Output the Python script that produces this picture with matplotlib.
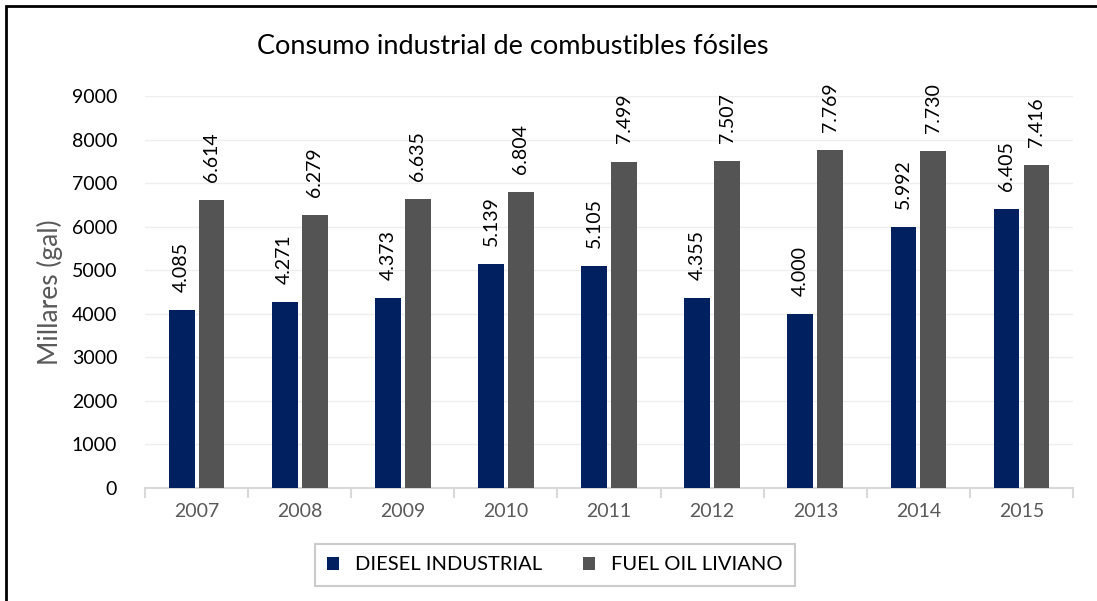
import numpy as np
from matplotlib import pyplot as plt
from matplotlib.patches import Rectangle

years = ["2007", "2008", "2009", "2010", "2011", "2012", "2013", "2014", "2015"]
diesel = [4085, 4271, 4373, 5139, 5105, 4355, 4000, 5992, 6405]
fuel_oil = [6614, 6279, 6635, 6804, 7499, 7507, 7769, 7730, 7416]

plt.rcParams['font.family'] = ['Lato', 'DejaVu Sans']

fig = plt.figure(figsize=(10.97, 6.01), dpi=100)
ax = fig.add_axes([0.1322, 0.188, 0.846, 0.652])

x = np.arange(len(years))
w = 0.25
off = 0.145
b1 = ax.bar(x - off, diesel, w, color="#002060", label="DIESEL INDUSTRIAL", zorder=3)
b2 = ax.bar(x + off, fuel_oil, w, color="#545454", label="FUEL OIL LIVIANO", zorder=3)

for bars, vals in ((b1, diesel), (b2, fuel_oil)):
    for r, v in zip(bars, vals):
        ax.annotate(f"{v/1000:.3f}",
                    (r.get_x() + r.get_width() / 2, v),
                    xytext=(0, 13), textcoords="offset points",
                    rotation=90, ha="center", va="bottom", fontsize=14, color="#000000")

ax.set_xlim(-0.5, len(years) - 0.5)
ax.set_ylim(0, 9000)
ax.set_yticks(range(0, 9001, 1000))
ax.yaxis.grid(True, color="#eeeeee", linewidth=1, zorder=0)
ax.set_xticks(x)
ax.set_xticklabels(years)
ax.set_xticks(np.arange(-0.5, len(years), 1), minor=True)
ax.tick_params(axis="x", which="major", length=0, labelsize=14, labelcolor="#595959", pad=11)
ax.tick_params(axis="x", which="minor", length=7, color="#d9d9d9", width=1.5)
ax.tick_params(axis="y", length=0, labelsize=14, labelcolor="#000000", pad=20)
for s in ("top", "right", "left"):
    ax.spines[s].set_visible(False)
ax.spines["bottom"].set_color("#d9d9d9")
ax.spines["bottom"].set_linewidth(1.5)

ax.set_ylabel("Millares (gal)", fontsize=19, color="#595959", labelpad=6)

fig.text(513 / 1097, 1 - 47 / 601, "Consumo industrial de combustibles fósiles",
         ha="center", va="center", fontsize=19.5, color="#000000")

leg = fig.legend(loc="center", bbox_to_anchor=(555 / 1097, 1 - 565 / 601), ncol=2,
                 fontsize=14.5, frameon=True, fancybox=False, edgecolor="#bfbfbf",
                 handlelength=0.6, handleheight=0.6, columnspacing=2.0, borderpad=0.6)
leg.get_frame().set_linewidth(1.5)

fig.patches.append(Rectangle((6 / 1097, -0.1), 1.2, 1.1 - 6 / 601,
                             transform=fig.transFigure, fill=False,
                             edgecolor="black", linewidth=2))

fig.savefig("out.png", dpi=100)
